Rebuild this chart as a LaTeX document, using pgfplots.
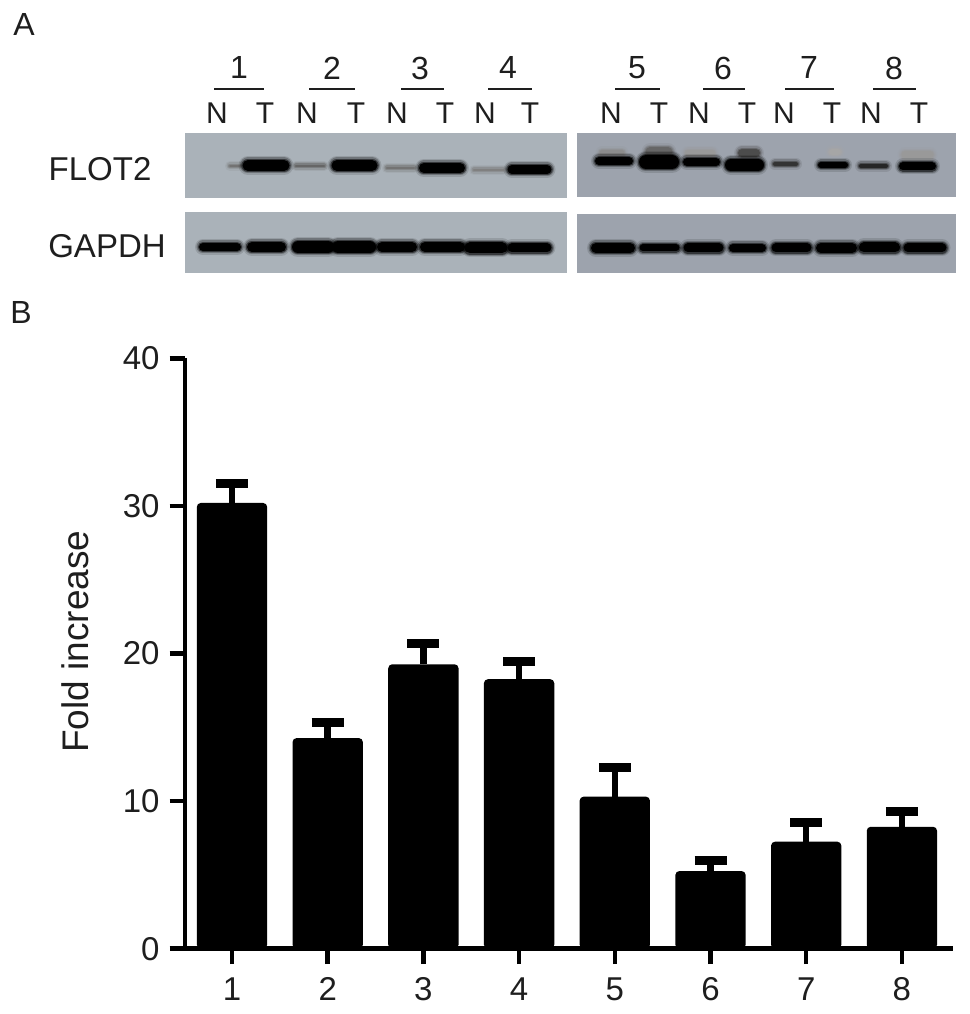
\documentclass[border=0pt]{standalone}
\usepackage{pgfplots}
\usepackage{pgfplotstable}
\usepackage{fontspec}
\setmainfont{Liberation Sans}
\pgfplotsset{compat=1.18}

\definecolor{blotL}{HTML}{AAB2B9}
\definecolor{blotR}{HTML}{9DA3AD}
\definecolor{ink}{HTML}{1E1E1E}

% bar heights and upper error
\pgfplotstableread{
x  y     err
1  30.2  1.35
2  14.27 1.08
3  19.27 1.43
4  18.26 1.21
5  10.3  1.98
6  5.26  0.72
7  7.25  1.33
8  8.26  1.06
}\foldtable

% soft blot band: [colour]{x from}{x to}{y}{thickness}
\newcommand{\band}[5][black]{%
  \addplot[#1, opacity=.12, line width=#5pt+8pt, line cap=round] coordinates {(#2,#4)(#3,#4)};
  \addplot[#1, opacity=.25, line width=#5pt+5pt, line cap=round] coordinates {(#2,#4)(#3,#4)};
  \addplot[#1, opacity=.5, line width=#5pt+2.5pt, line cap=round] coordinates {(#2,#4)(#3,#4)};
  \addplot[#1, line width=#5pt, line cap=round] coordinates {(#2,#4)(#3,#4)};
}
\newcommand{\panel}[5]{%
  \addplot[fill=#5, draw=none] coordinates {(#1,#3)(#2,#3)(#2,#4)(#1,#4)} --cycle;
}
\newcommand{\lanebar}[2]{%
  \addplot[ink, line width=2.8pt] coordinates {(#1,89)(#2,89)};
}
\newcommand{\txt}[3]{\node[ink, inner sep=0pt, font=\fontsize{#3}{#3}\selectfont] at (axis cs:#1) {#2};}

\begin{document}
\begin{tikzpicture}
\path[use as bounding box] (0pt,0pt) rectangle (969pt,1014pt);

% panel A, drawn in pixel coordinates of the page
\begin{axis}[
    at={(0pt,0pt)}, anchor=south west,
    scale only axis, width=969pt, height=1014pt,
    xmin=0, xmax=969, ymin=0, ymax=1014, y dir=reverse,
    hide axis, clip=false,
    every axis plot post/.append style={mark=none, sharp plot},
  ]
  \panel{185}{567}{133}{198}{blotL}
  \panel{185}{567}{212}{273}{blotL}
  \panel{577}{956}{133}{197}{blotR}
  \panel{577}{956}{214}{273}{blotR}

  % FLOT2, left
  \band[black!55]{230}{240}{166}{2}
  \band{248}{284}{165.5}{11}
  \band[black!60]{296}{324}{166}{2.5}
  \band{337}{372}{165.5}{11}
  \band[black!55]{387}{414}{168}{2.5}
  \band{424}{460}{168}{10}
  \band[black!50]{474}{503}{170}{2.5}
  \band{512}{547}{169.5}{9}
  % FLOT2, right
  \band[black!45]{602}{622}{153}{5}
  \band{599}{629}{161}{8}
  \band[black!60]{650}{668}{152}{9}
  \band{646}{672}{162}{14}
  \band[black!40]{688}{712}{153}{6}
  \band{687}{716}{162}{8}
  \band[black!70]{742}{756}{153}{8}
  \band{731}{758}{165}{12}
  \band[black!80]{775}{796}{164}{4}
  \band[black!35]{832}{838}{152}{6}
  \band{821}{845}{165}{6}
  \band[black!85]{861}{886}{166}{4}
  \band[black!40]{905}{930}{155}{7}
  \band{903}{932}{166.5}{8}

  % GAPDH, left
  \band{203}{237}{247}{8}
  \band{252}{281}{247}{10}
  \band{298}{328}{247}{12}
  \band{338}{370}{247}{12}
  \band{382}{412}{247}{10}
  \band{425}{460}{247}{10}
  \band{470}{502}{248}{11}
  \band{512}{547}{248}{9}
  % GAPDH, right
  \band{596}{630}{248}{10}
  \band{643}{676}{248}{7}
  \band{688}{719}{248}{9}
  \band{733}{762}{248}{8}
  \band{776}{807}{248}{9}
  \band{821}{852}{248}{10}
  \band{864}{895}{247.5}{10}
  \band{908}{942}{248}{9}

  \lanebar{214}{264} \lanebar{309}{355} \lanebar{401}{444} \lanebar{488}{532}
  \lanebar{615}{660} \lanebar{703}{745} \lanebar{785}{834} \lanebar{873}{916}

  \txt{239,68}{1}{32} \txt{332,68}{2}{32} \txt{420,68}{3}{32} \txt{508,68}{4}{32}
  \txt{637,68}{5}{32} \txt{723,68}{6}{32} \txt{809,68}{7}{32} \txt{894,68}{8}{32}

  \txt{217,113}{N}{30} \txt{265,113}{T}{30} \txt{307,113}{N}{30} \txt{356,113}{T}{30}
  \txt{397,113}{N}{30} \txt{445,113}{T}{30} \txt{485,113}{N}{30} \txt{530,113}{T}{30}
  \txt{611,113}{N}{30} \txt{659,113}{T}{30} \txt{699,113}{N}{30} \txt{747,113}{T}{30}
  \txt{784,113}{N}{30} \txt{832,113}{T}{30} \txt{871,113}{N}{30} \txt{919,113}{T}{30}

  \txt{100,169}{FLOT2}{33}
  \txt{107,246}{GAPDH}{33}
  \txt{24,25}{A}{32}
  \txt{21,312}{B}{32}
\end{axis}

% panel B
\begin{axis}[
    at={(185pt,65.3pt)}, anchor=south west,
    scale only axis, width=768pt, height=590.4pt,
    xmin=0.509, xmax=8.534, ymin=0, ymax=40,
    axis lines=left,
    axis line style={-, line width=4.5pt, black},
    axis on top,
    xtick={1,2,3,4,5,6,7,8},
    ytick={0,10,20,30,40},
    tick align=outside,
    major tick length=15.5pt,
    every tick/.style={black, line width=4.5pt},
    tick label style={ink, font=\fontsize{33}{33}\selectfont},
    /pgf/number format/assume math mode=true,
    xticklabel style={yshift=-10pt},
    yticklabel style={xshift=-6.5pt},
    ylabel={Fold increase},
    ylabel style={at={(axis description cs:-0.143,0.52)}, anchor=center, ink, font=\fontsize{37}{37}\selectfont},
    ybar, bar width=70.3pt,
  ]
  \addplot[
    fill=black, draw=none, rounded corners=4pt,
    error bars/.cd,
      y dir=plus, y explicit,
      error bar style={line width=6.5pt, black, rounded corners=0pt},
      error mark options={rotate=90, mark size=16pt, line width=9pt, black},
  ] table[x=x, y=y, y error=err] {\foldtable};
\end{axis}
\end{tikzpicture}
\end{document}
